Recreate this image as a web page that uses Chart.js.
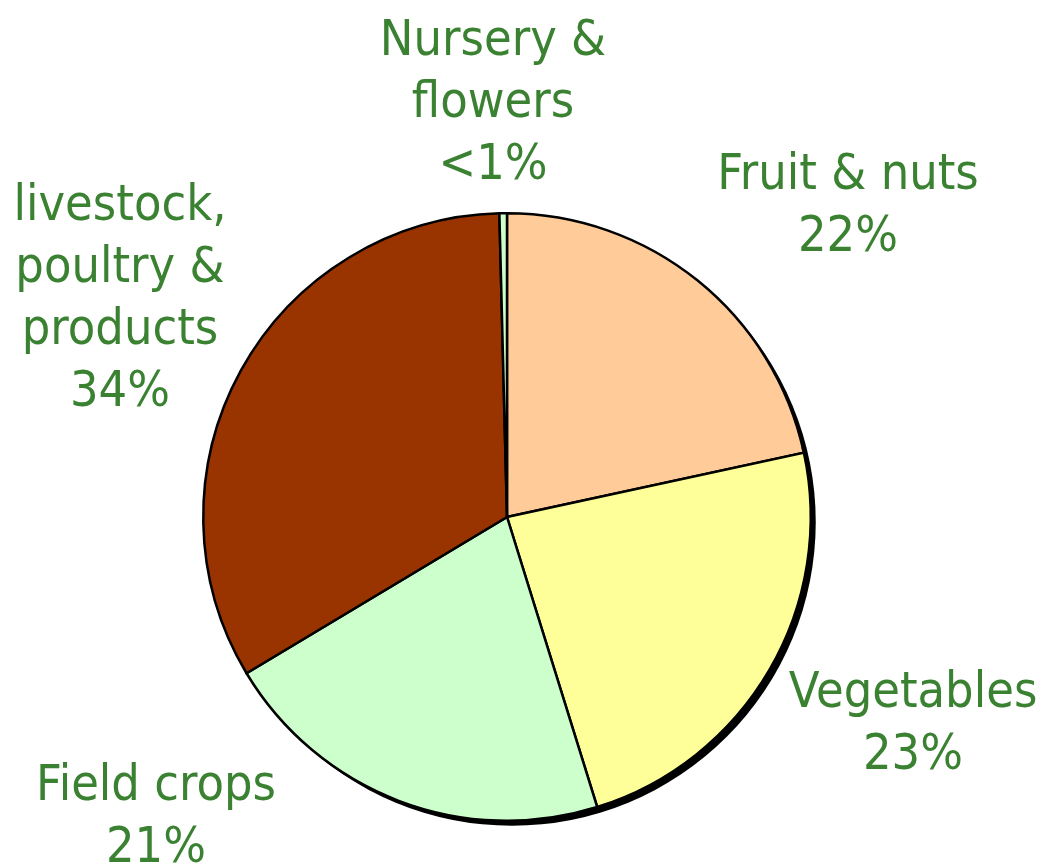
<!DOCTYPE html>
<html>
<head>
<meta charset="utf-8">
<script src="https://cdn.jsdelivr.net/npm/chart.js@4/dist/chart.umd.min.js"></script>
<style>
  html, body { margin: 0; padding: 0; background: #fff; }
  #wrap { width: 1044px; height: 866px; position: relative; }
</style>
</head>
<body>
<div id="wrap"><canvas id="pieChart"></canvas></div>
<script>
// data (clockwise from 12 o'clock)
const categories = ['Fruit & nuts', 'Vegetables', 'Field crops', 'livestock, poultry & products', 'Nursery & flowers'];
const shares = [21.6, 23.6, 21.2, 33.2, 0.4];
const shareLabels = ['22%', '23%', '21%', '34%', '<1%'];
const sliceColors = ['#FFCC99', '#FFFF99', '#CCFFCC', '#993300', '#CCFFCC'];

// how each label is broken into lines, and where its first line sits
const labelLines = [
    ['Fruit & nuts'],
    ['Vegetables'],
    ['Field crops'],
    ['livestock,', 'poultry &', 'products'],
    ['Nursery &', 'flowers']
];
const labelAt = [
    { x: 848, y: 176 },
    { x: 913, y: 694 },
    { x: 156, y: 787 },
    { x: 120, y: 207 },
    { x: 493, y: 42 }
];
const textColor = '#3A8232';
const lineGap = 62;

// black drop shadow behind the pie
const pieShadow = {
    id: 'pieShadow',
    beforeDatasetsDraw(chart) {
        const arc = chart.getDatasetMeta(0).data[0];
        if (!arc) return;
        const ctx = chart.ctx;
        ctx.save();
        ctx.fillStyle = '#000';
        ctx.beginPath();
        ctx.arc(arc.x + 5, arc.y + 5, arc.outerRadius, 0, Math.PI * 2);
        ctx.fill();
        ctx.restore();
    }
};

const sliceLabels = {
    id: 'sliceLabels',
    afterDraw(chart) {
        const ctx = chart.ctx;
        ctx.save();
        ctx.fillStyle = textColor;
        ctx.font = '50px "DejaVu Sans"';
        ctx.textAlign = 'center';
        ctx.textBaseline = 'middle';
        categories.forEach((c, i) => {
            const lines = labelLines[i].concat([shareLabels[i]]);
            lines.forEach((t, j) => {
                ctx.save();
                ctx.translate(labelAt[i].x, labelAt[i].y + j * lineGap);
                ctx.scale(0.9, 1);
                ctx.fillText(t, 0, 0);
                ctx.restore();
            });
        });
        ctx.restore();
    }
};

const ctx_pie = document.getElementById('pieChart');

let chart_pie = new Chart(ctx_pie, {
    type: 'pie',
    data: {
        labels: categories,
        datasets: [{
            data: shares,
            backgroundColor: sliceColors,
            borderColor: '#000',
            borderWidth: 2.5,
            borderJoinStyle: 'miter',
        }],
    },
    options: {
        responsive: true,
        maintainAspectRatio: false,
        animation: false,
        layout: {
            padding: { top: 212, bottom: 44, left: 202, right: 232 }
        },
        plugins: {
            legend: { display: false },
            tooltip: { enabled: false },
        },
    },
    plugins: [pieShadow, sliceLabels],
});
</script>
</body>
</html>
